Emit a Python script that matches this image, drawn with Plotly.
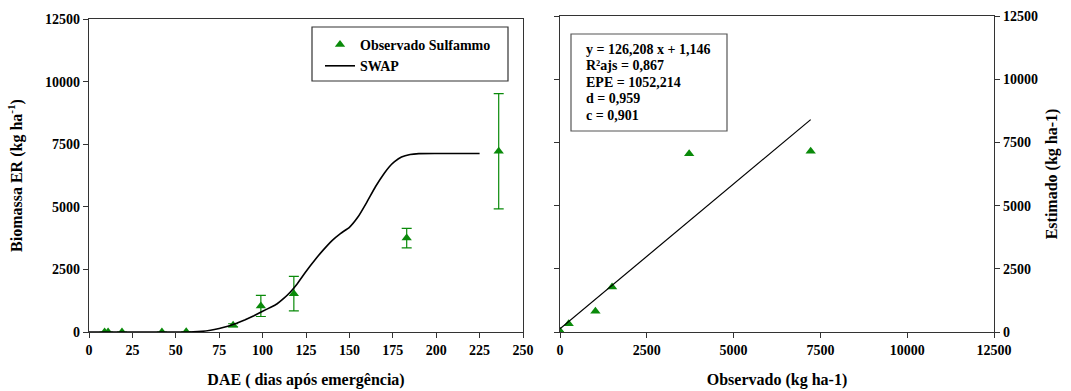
import plotly.graph_objects as go

# ---- data ----
dae_obs = [9, 11, 19, 42, 56, 83, 99, 118, 183, 236]
biomassa_obs = [0, 0, 0, 0, 10, 270, 1040, 1530, 3750, 7220]
biomassa_err = [0, 0, 0, 0, 0, 60, 420, 690, 390, 2300]

dae_swap = [0, 55, 60, 65, 70, 75, 80, 85, 90, 95, 100, 105, 108, 112, 116, 120, 125,
            130, 135, 140, 145, 150, 155, 160, 165, 170, 173, 176, 180, 185, 190, 200, 225]
biomassa_swap = [0, 0, 5, 25, 70, 140, 230, 350, 490, 650, 830, 1000, 1110, 1330, 1600,
                 1930, 2420, 2870, 3280, 3650, 3940, 4180, 4600, 5180, 5800, 6330, 6600,
                 6800, 6990, 7090, 7125, 7130, 7130]

obs_scatter = [0, 0, 0, 0, 10, 250, 1020, 1500, 3720, 7220]
est_scatter = [0, 0, 0, 0, 20, 330, 820, 1780, 7055, 7150]

reg_intercept = 126.208
reg_slope = 1.146

stats_lines = ["y = 126,208 x + 1,146", "R²ajs = 0,867", "EPE = 1052,214",
               "d = 0,959", "c = 0,901"]

ticks_dae = [0, 25, 50, 75, 100, 125, 150, 175, 200, 225, 250]
ticks_bio = [0, 2500, 5000, 7500, 10000, 12500]

FONT = "Liberation Serif"
GREEN = "#0a8a0a"
W, H = 1071, 391

fig = go.Figure()

fig.add_trace(go.Scatter(
    x=dae_obs, y=biomassa_obs, mode="markers", name="<b>Observado Sulfammo</b>",
    marker=dict(symbol="triangle-up", size=9, color=GREEN),
    error_y=dict(type="data", array=biomassa_err, visible=True, color=GREEN,
                 thickness=1.2, width=5),
    xaxis="x", yaxis="y"))
fig.add_trace(go.Scatter(
    x=dae_swap, y=biomassa_swap, mode="lines", name="<b>SWAP</b>",
    line=dict(color="black", width=1.6, shape="spline", smoothing=0.3),
    xaxis="x", yaxis="y"))

x_line = [0, max(obs_scatter)]
y_line = [reg_intercept + reg_slope * v for v in x_line]
fig.add_trace(go.Scatter(
    x=obs_scatter, y=est_scatter, mode="markers", showlegend=False,
    marker=dict(symbol="triangle-up", size=9, color=GREEN),
    xaxis="x2", yaxis="y2"))
fig.add_trace(go.Scatter(
    x=x_line, y=y_line, mode="lines", showlegend=False,
    line=dict(color="black", width=1.2), xaxis="x2", yaxis="y2"))


def px_x(p):
    return p / W


def px_y(p):
    return 1 - p / H


def bold(vals):
    return ["<b>%d</b>" % v for v in vals]


axis_common = dict(showgrid=False, zeroline=False, showline=True, linecolor="#333",
                   linewidth=1.2, ticks="outside", ticklen=5, tickcolor="#333",
                   tickfont=dict(family=FONT, size=14, color="black"),
                   automargin=False)

fig.update_layout(
    width=W, height=H, margin=dict(l=0, r=0, t=0, b=0),
    paper_bgcolor="white", plot_bgcolor="white",
    font=dict(family=FONT, color="black"),
    xaxis=dict(domain=[px_x(89), px_x(523)], range=[0, 250], tickvals=ticks_dae,
               ticktext=bold(ticks_dae), mirror=True, anchor="y",
               title=dict(text="<b>DAE ( dias após emergência)</b>", standoff=16,
                          font=dict(family=FONT, size=16)),
               **axis_common),
    yaxis=dict(domain=[px_y(332), px_y(19)], range=[0, 12500], tickvals=ticks_bio,
               ticktext=bold(ticks_bio), mirror=True, anchor="x",
               title=dict(text="<b>Biomassa ER (kg ha<sup>-1</sup>)</b>", standoff=18,
                          font=dict(family=FONT, size=16)),
               **axis_common),
    xaxis2=dict(domain=[px_x(560), px_x(994)], range=[0, 12500], tickvals=ticks_bio,
                ticktext=bold(ticks_bio), mirror=True, anchor="y2",
                title=dict(text="<b>Observado (kg ha-1)</b>", standoff=16,
                           font=dict(family=FONT, size=16)),
                **axis_common),
    yaxis2=dict(domain=[px_y(332), px_y(16)], range=[0, 12500], tickvals=ticks_bio,
                ticktext=bold(ticks_bio), mirror="ticks", anchor="x2", side="right",
                title=dict(text="<b>Estimado (kg ha-1)</b>", standoff=8,
                           font=dict(family=FONT, size=16)),
                **axis_common),
    legend=dict(x=px_x(320), y=px_y(29), xanchor="left", yanchor="top",
                bgcolor="rgba(0,0,0,0)", bordercolor="rgba(0,0,0,0)", borderwidth=0,
                font=dict(family=FONT, size=14, color="black"),
                itemwidth=30, tracegroupgap=0),
)

# legend frame
fig.add_shape(type="rect", xref="paper", yref="paper",
              x0=px_x(312), x1=px_x(508), y0=px_y(81), y1=px_y(27),
              line=dict(color="#333", width=1.2), fillcolor="rgba(0,0,0,0)", layer="below")

# stats box
fig.add_shape(type="rect", xref="paper", yref="paper",
              x0=px_x(571), x1=px_x(727), y0=px_y(131), y1=px_y(34),
              line=dict(color="#555", width=1.2), fillcolor="rgba(0,0,0,0)")
for i, t in enumerate(stats_lines):
    fig.add_annotation(text="<b>" + t + "</b>", xref="paper", yref="paper",
                       x=px_x(584), y=px_y(49 + i * 16.5), xanchor="left",
                       yanchor="middle", showarrow=False,
                       font=dict(family=FONT, size=14, color="black"))

fig.write_html("out.html")
